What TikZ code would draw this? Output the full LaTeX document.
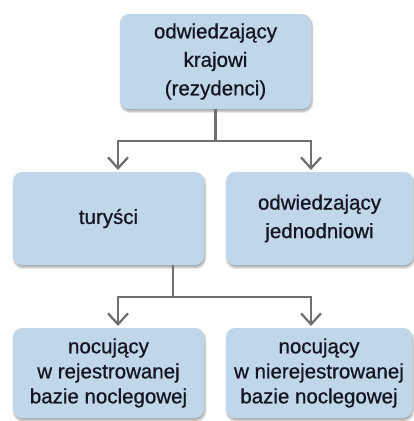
\documentclass[tikz,border=0pt]{standalone}
\usepackage{fontspec}
\setmainfont{Liberation Sans}[FakeBold=0.7]
\usetikzlibrary{arrows.meta, shadows.blur}
\definecolor{boxblue}{RGB}{191,215,232}
\definecolor{linegray}{RGB}{112,112,112}
\definecolor{textdark}{RGB}{20,20,35}

\begin{document}
\begin{tikzpicture}[x=1pt, y=-1pt, >={Straight Barb[length=11pt, width=20pt]},
    box/.style={fill=boxblue, rounded corners=9pt, align=center, text=textdark,
      font=\fontsize{20.5}{28.5}\selectfont, inner sep=0pt,
      blur shadow={shadow xshift=1pt, shadow yshift=-2.5pt, shadow opacity=35, shadow blur steps=6}},
    lowbox/.style={box, font=\fontsize{20.5}{25}\selectfont},
    conn/.style={draw=linegray, line width=2.3pt}]

    \useasboundingbox (0,0) rectangle (414,421);

    % Boxes
    \node[box, minimum width=191pt, minimum height=95pt] (top) at (215.5,61.5)
        {odwiedzający\\krajowi\\(rezydenci)};
    \node[box, minimum width=191pt, minimum height=93pt] (tur) at (108.5,218.5) {turyści};
    \node[box, minimum width=187pt, minimum height=93pt] (jedn) at (319.5,218.5)
        {odwiedzający\\jednodniowi};
    \node[lowbox, minimum width=191pt, minimum height=90pt] (rej) at (108.5,373)
        {nocujący\\w rejestrowanej\\bazie noclegowej};
    \node[lowbox, minimum width=186pt, minimum height=90pt] (nrej) at (319,373)
        {nocujący\\w nierejestrowanej\\bazie noclegowej};

    % Connectors
    \coordinate (j1) at (215.5,141);
    \coordinate (a1) at (118,170);
    \coordinate (a2) at (311,170);
    \draw[conn] (top.south) -- (j1);
    \draw[conn, ->] (j1) -| (a1);
    \draw[conn, ->] (j1) -| (a2);

    \coordinate (b0) at (173,265);
    \coordinate (j2) at (173,297);
    \coordinate (b1) at (118,326);
    \coordinate (b2) at (311,326);
    \draw[conn] (b0) -- (j2);
    \draw[conn, ->] (j2) -| (b1);
    \draw[conn, ->] (j2) -| (b2);
\end{tikzpicture}
\end{document}
